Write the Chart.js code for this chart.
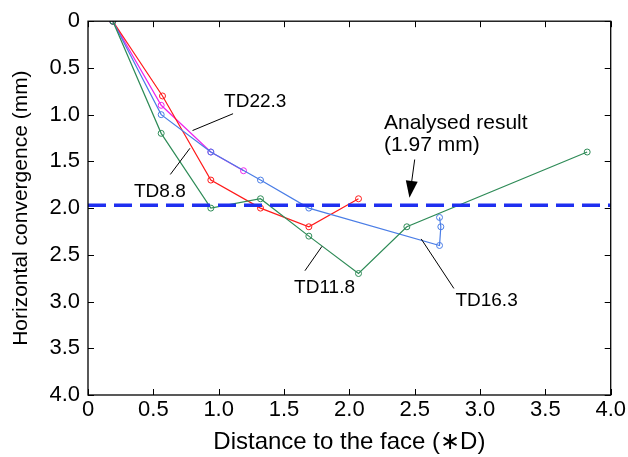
<!DOCTYPE html>
<html>
<head>
<meta charset="utf-8">
<script src="https://cdn.jsdelivr.net/npm/chart.js@4/dist/chart.umd.min.js"></script>
<style>
  html, body { margin: 0; padding: 0; background: #fff; }
  #wrap { width: 628px; height: 457px; }
</style>
</head>
<body>
<div id="wrap"><canvas id="convChart"></canvas></div>
<script>
// distance to the face (*D) and horizontal convergence (mm) per section
const td88x = [0.19, 0.57, 0.94, 1.32, 1.69, 2.07];
const td88y = [0, 0.8, 1.7, 2.0, 2.2, 1.9];

const td118x = [0.19, 0.56, 0.94, 1.32, 1.69, 2.07, 2.44, 3.82];
const td118y = [0, 1.2, 2.0, 1.9, 2.3, 2.7, 2.2, 1.4];

const td163x = [0.19, 0.56, 0.94, 1.32, 1.69, 2.69, 2.70, 2.69];
const td163y = [0, 1.0, 1.4, 1.7, 2.0, 2.4, 2.2, 2.1];

const td223x = [0.19, 0.56, 0.94, 1.19];
const td223y = [0, 0.9, 1.4, 1.6];

const analysed = 1.97;
const xTicks = [0, 0.5, 1.0, 1.5, 2.0, 2.5, 3.0, 3.5, 4.0];
const yTicks = [0, 0.5, 1.0, 1.5, 2.0, 2.5, 3.0, 3.5, 4.0];

// labels and leader lines, in data units
const notes = [
  { text: 'TD22.3', at: [1.28, 0.86], from: [1.11, 0.99], to: [0.80, 1.17] },
  { text: 'TD8.8', at: [0.55, 1.82], from: [0.63, 1.64], to: [0.78, 1.36] },
  { text: 'TD11.8', at: [1.81, 2.85], from: [1.66, 2.67], to: [1.79, 2.41] },
  { text: 'TD16.3', at: [3.05, 2.99], from: [2.80, 2.86], to: [2.55, 2.33] }
];

const FONT = '"Liberation Sans", Arial, sans-serif';
const pts = (xs, ys) => xs.map((x, i) => ({ x: x, y: ys[i] }));
const fmt = v => (v === 0 ? '0' : v.toFixed(1));

function series(label, xs, ys, color) {
  return {
    label: label,
    data: pts(xs, ys),
    showLine: true,
    borderColor: color,
    backgroundColor: 'rgba(0,0,0,0)',
    borderWidth: 1.2,
    pointRadius: 3,
    pointBorderWidth: 1,
    pointStyle: 'circle',
    tension: 0
  };
}

const frame = {
  id: 'frame',
  afterDatasetsDraw(chart) {
    const c = chart.ctx, a = chart.chartArea;
    const sx = chart.scales.x, sy = chart.scales.y;
    c.save();
    c.strokeStyle = '#000';
    c.lineWidth = 1.3;
    c.strokeRect(a.left, a.top, a.right - a.left, a.bottom - a.top);
    c.lineWidth = 1;
    c.beginPath();
    xTicks.forEach(v => {
      const px = Math.round(sx.getPixelForValue(v)) + 0.5;
      c.moveTo(px, a.bottom); c.lineTo(px, a.bottom - 6);
      c.moveTo(px, a.top); c.lineTo(px, a.top + 6);
    });
    yTicks.forEach(v => {
      const py = Math.round(sy.getPixelForValue(v)) + 0.5;
      c.moveTo(a.left, py); c.lineTo(a.left + 6, py);
      c.moveTo(a.right, py); c.lineTo(a.right - 6, py);
    });
    c.stroke();

    // annotations
    c.font = '19px ' + FONT;
    c.fillStyle = '#000';
    c.textAlign = 'center';
    c.textBaseline = 'middle';
    notes.forEach(n => {
      c.fillText(n.text, sx.getPixelForValue(n.at[0]), sy.getPixelForValue(n.at[1]));
      c.beginPath();
      c.moveTo(sx.getPixelForValue(n.from[0]), sy.getPixelForValue(n.from[1]));
      c.lineTo(sx.getPixelForValue(n.to[0]), sy.getPixelForValue(n.to[1]));
      c.stroke();
    });
    c.font = '21px ' + FONT;
    c.textAlign = 'left';
    c.fillText('Analysed result', sx.getPixelForValue(2.265), sy.getPixelForValue(1.09));
    c.fillText('(1.97 mm)', sx.getPixelForValue(2.265), sy.getPixelForValue(1.33));

    // arrow to the analysed line
    const x0 = sx.getPixelForValue(2.50), y0 = sy.getPixelForValue(1.48);
    const x1 = sx.getPixelForValue(2.46), y1 = sy.getPixelForValue(1.89);
    const ang = Math.atan2(y1 - y0, x1 - x0);
    c.beginPath();
    c.moveTo(x0, y0); c.lineTo(x1 - 12 * Math.cos(ang), y1 - 12 * Math.sin(ang));
    c.stroke();
    c.beginPath();
    c.moveTo(x1, y1);
    c.lineTo(x1 - 17 * Math.cos(ang) + 6 * Math.sin(ang), y1 - 17 * Math.sin(ang) - 6 * Math.cos(ang));
    c.lineTo(x1 - 17 * Math.cos(ang) - 6 * Math.sin(ang), y1 - 17 * Math.sin(ang) + 6 * Math.cos(ang));
    c.closePath();
    c.fill();
    c.restore();
  }
};

new Chart(document.getElementById('convChart'), {
  type: 'scatter',
  data: {
    datasets: [
      {
        label: 'Analysed result',
        data: pts([0, 4], [analysed, analysed]),
        showLine: true,
        borderColor: '#1f2ff0',
        borderWidth: 3.5,
        borderDash: [18, 8],
        pointRadius: 0
      },
      series('TD11.8', td118x, td118y, '#2e8b57'),
      series('TD16.3', td163x, td163y, '#4a7de6'),
      series('TD8.8', td88x, td88y, '#ff1a1a'),
      series('TD22.3', td223x, td223y, '#ee22ee')
    ]
  },
  options: {
    responsive: true,
    maintainAspectRatio: false,
    animation: false,
    layout: { padding: { top: 19, right: 16, left: 9, bottom: 0 } },
    plugins: { legend: { display: false }, tooltip: { enabled: false } },
    scales: {
      x: {
        type: 'linear',
        min: 0, max: 4,
        afterBuildTicks: s => { s.ticks = xTicks.map(v => ({ value: v })); },
        afterFit: s => { s.height = 62; },
        grid: { drawOnChartArea: false, drawTicks: false },
        border: { display: false },
        ticks: {
          color: '#000', padding: 2, maxRotation: 0,
          font: { family: FONT, size: 22 },
          callback: v => fmt(v)
        },
        title: {
          display: true, text: 'Distance to the face (\u2217D)', color: '#000',
          font: { family: FONT, size: 24 },
          padding: { top: 0, bottom: 0 }
        }
      },
      y: {
        type: 'linear',
        reverse: true,
        min: 0, max: 4,
        afterBuildTicks: s => { s.ticks = yTicks.map(v => ({ value: v })); },
        afterFit: s => { s.width = 79; },
        grid: { drawOnChartArea: false, drawTicks: false },
        border: { display: false },
        ticks: {
          color: '#000', padding: 8,
          font: { family: FONT, size: 22 },
          callback: v => fmt(v)
        },
        title: {
          display: true, text: 'Horizontal convergence (mm)', color: '#000',
          font: { family: FONT, size: 21 },
          padding: { top: 0, bottom: 2 }
        }
      }
    }
  },
  plugins: [frame]
});
</script>
</body>
</html>
